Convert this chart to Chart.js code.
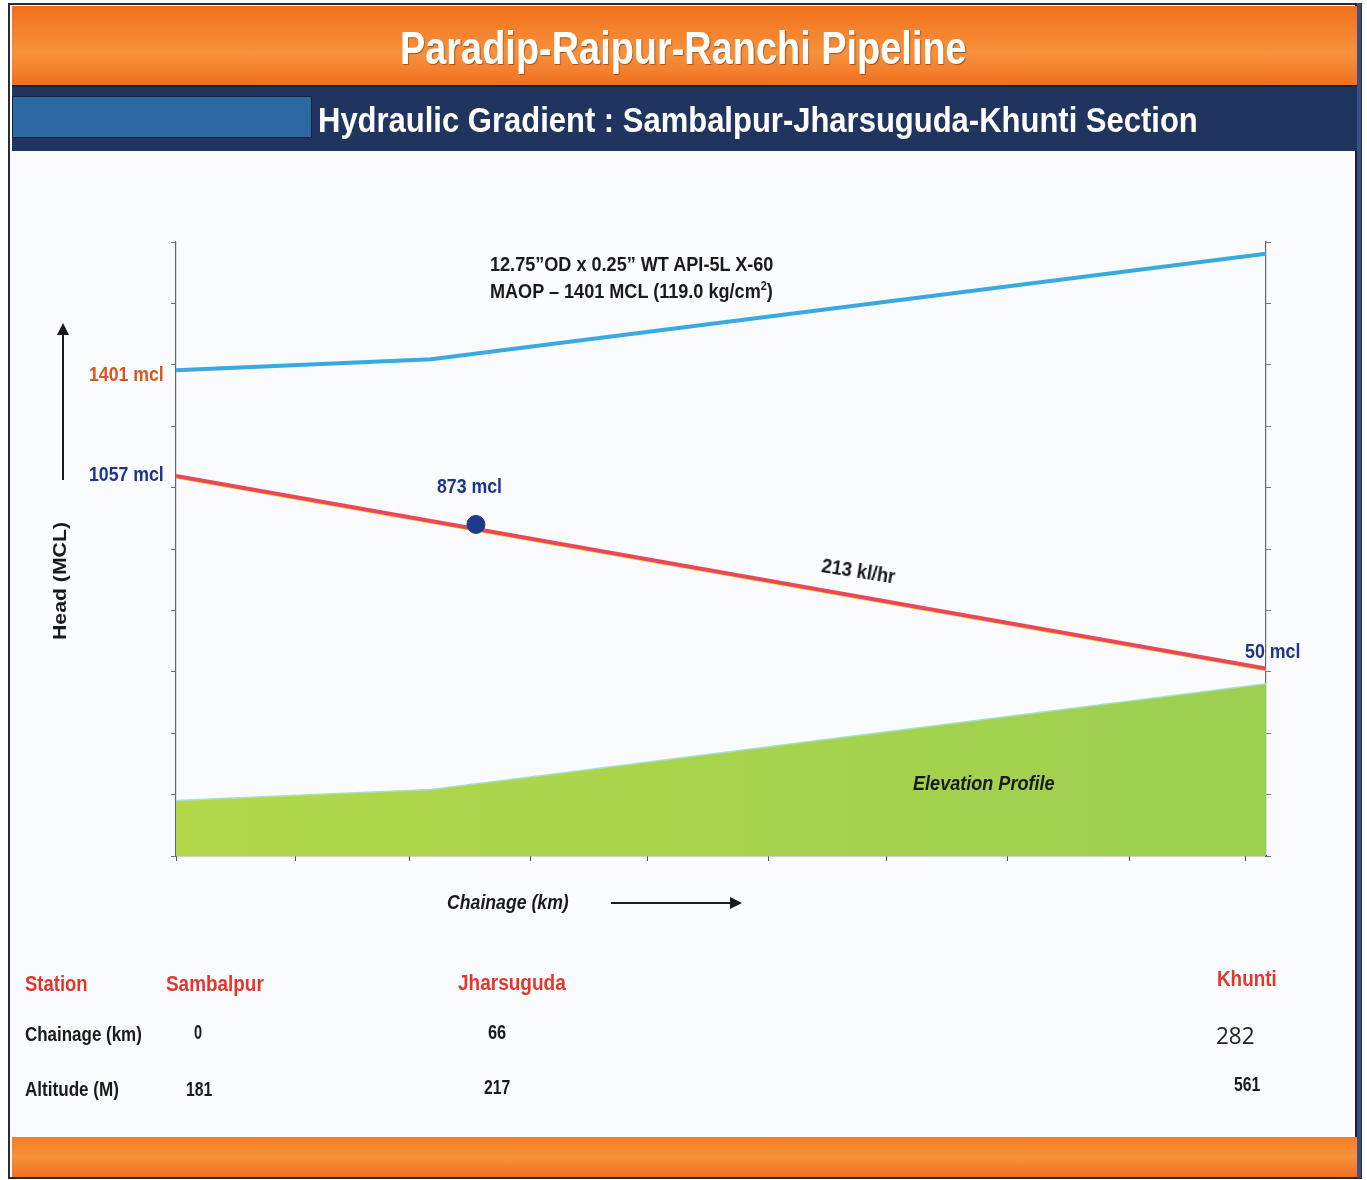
<!DOCTYPE html>
<html>
<head>
<meta charset="utf-8">
<script src="https://cdn.jsdelivr.net/npm/chart.js@4.4.1/dist/chart.umd.min.js"></script>
<style>
  html, body { margin:0; padding:0; background:#ffffff; }
  body { width:1367px; height:1180px; position:relative; overflow:hidden;
         font-family:"Liberation Sans",Arial,sans-serif; }
  .abs { position:absolute; white-space:nowrap; }
  #frame { left:8px; top:3px; width:1350px; height:1172px; border:2px solid #2b2b35; background:#f9fbfd; }
  #rightedge { left:1355px; top:3px; width:4px; height:1175px; background:#3a4f86; border-left:2px solid #1b1f2e; }
  #hdr { left:12px; top:6px; width:1345px; height:79px;
         background:linear-gradient(to bottom,#f26f1e 0%,#f68a33 45%,#f7913c 60%,#f0701f 100%); }
  #band { left:12px; top:85px; width:1345px; height:64px; background:#1f355f; border-top:2px solid #142444; }
  #bluebox { left:12px; top:96px; width:298px; height:40px; background:#2c68a1; border:1px solid #13213b; }
  #foot { left:12px; top:1137px; width:1345px; height:40px;
          background:linear-gradient(to bottom,#f47c25 0%,#f7923b 50%,#f07020 100%); }
  canvas#c { position:absolute; left:0; top:0; }
</style>
</head>
<body>
<div id="frame" class="abs"></div>
<div id="rightedge" class="abs"></div>
<div id="hdr" class="abs"></div>
<div id="band" class="abs"></div>
<div id="bluebox" class="abs"></div>
<div id="foot" class="abs"></div>

<canvas id="c" width="1367" height="1180"></canvas>

<!-- arrows -->
<div class="abs" style="left:62px;top:334px;width:2px;height:146px;background:#1a1a1a;"></div>
<div class="abs" style="left:57px;top:323px;width:0;height:0;border-left:6px solid transparent;border-right:6px solid transparent;border-bottom:12px solid #1a1a1a;"></div>
<div class="abs" style="left:611px;top:902px;width:120px;height:2px;background:#1a1a1a;"></div>
<div class="abs" style="left:730px;top:897px;width:0;height:0;border-top:6px solid transparent;border-bottom:6px solid transparent;border-left:12px solid #1a1a1a;"></div>

<script>
// ---------- data ----------
const stations      = ['Sambalpur', 'Jharsuguda', 'Khunti'];
const chainageKm    = [0, 66, 282];
const altitudeM     = [181, 217, 561];
const maopHead      = [1582, 1618, 1962];   // MAOP line (1401 mcl above ground)
const hgKm          = [0, 282];
const hgHead        = [1238, 611];          // hydraulic gradient, 213 kl/hr
const markerKm      = [77.6];
const markerHead    = [1080];               // 873 mcl point
const xTicks        = [0, 31, 60.5, 91.6, 122.1, 153.4, 183.7, 215.2, 246.8, 276.8];
const yMin = 0, yMax = 2000, yStep = 200;

// ---------- text helper ----------
const NAVY = '#1f3585', RUST = '#d8561f', RED = '#e2372c', BLK = '#1a1a1a';
function place(html, o) {
  const d = document.createElement('div');
  d.className = 'abs';
  d.innerHTML = html;
  const fs = o.fs || 20;
  d.style.fontSize = fs + 'px';
  d.style.lineHeight = fs + 'px';
  d.style.fontWeight = o.weight || 'bold';
  if (o.italic) d.style.fontStyle = 'italic';
  if (o.family) d.style.fontFamily = o.family;
  d.style.color = o.color || BLK;
  if (o.shadow) d.style.textShadow = o.shadow;
  document.body.appendChild(d);
  const nat = d.offsetWidth;
  const s = o.w ? o.w / nat : 1;
  if (o.vertical) {
    d.style.left = o.x + 'px';
    d.style.top = o.cy + 'px';
    d.style.transform = 'translate(-50%,-50%) rotate(-90deg) scaleX(' + s + ')';
    return d;
  }
  d.style.left = o.x + 'px';
  d.style.top = (o.cy - 0.49 * fs) + 'px';
  d.style.transformOrigin = 'left center';
  d.style.transform = (o.rot ? 'rotate(' + o.rot + 'deg) ' : '') + 'scaleX(' + s + ')';
  return d;
}

// header texts
place('Paradip-Raipur-Ranchi Pipeline', { x: 400, cy: 48, w: 567, fs: 46, color: '#fff', shadow: '1px 1px 1px rgba(90,35,0,0.55)' });
place('Hydraulic Gradient : Sambalpur-Jharsuguda-Khunti Section', { x: 318, cy: 119, w: 880, fs: 35, color: '#fff' });

// chart annotations
place('1401 mcl', { x: 89, cy: 373, w: 75, fs: 21, color: RUST });
place('1057 mcl', { x: 89, cy: 473, w: 75, fs: 21, color: NAVY });
place('873 mcl',  { x: 437, cy: 485, w: 65, fs: 21, color: NAVY });
place('50 mcl',   { x: 1245, cy: 650, w: 55, fs: 21, color: NAVY });
place('213 kl/hr', { x: 822, cy: 564, w: 74, fs: 21, color: BLK, rot: 9 });
place('12.75”OD x 0.25” WT API-5L X-60', { x: 490, cy: 264, w: 283, fs: 20 });
place('MAOP – 1401 MCL (119.0 kg/cm<sup style="font-size:12px;line-height:0;">2</sup>)', { x: 490, cy: 291, w: 283, fs: 20 });
place('Elevation Profile', { x: 913, cy: 782, w: 142, fs: 21, italic: true });
place('Chainage (km)', { x: 447, cy: 901, w: 122, fs: 21, italic: true });
place('Head (MCL)', { x: 60, cy: 581, w: 118, fs: 18, vertical: true });

// station table
place('Station', { x: 25, cy: 984, w: 63, fs: 22, color: RED });
place('Chainage (km)', { x: 25, cy: 1034, w: 117, fs: 20 });
place('Altitude (M)', { x: 25, cy: 1089, w: 94, fs: 20 });
const stW   = [98, 108, 60];
const stX   = [166, 458, 1217];
const stCy  = [984, 983, 979];
const chX   = [194, 488, 1216];
const chW   = [8, 18, 38];
const altX  = [186, 484, 1234];
const altCy = [1089, 1087, 1084];
stations.forEach((s, i) => {
  place(s, { x: stX[i], cy: stCy[i], w: stW[i], fs: 22, color: RED });
  if (i === 2) {
    place(String(chainageKm[i]), { x: chX[i], cy: 1035, w: chW[i], fs: 23, weight: 'normal', family: "'Open Sans',sans-serif", color: '#222' });
  } else {
    place(String(chainageKm[i]), { x: chX[i], cy: 1032, w: chW[i], fs: 20 });
  }
  place(String(altitudeM[i]), { x: altX[i], cy: altCy[i], w: 26, fs: 20 });
});

// ---------- chart ----------
const pts = (xs, ys) => xs.map((x, i) => ({ x: x, y: ys[i] }));
const fitZeroW = s => { s.width = 0; };
const fitZeroH = s => { s.height = 0; };

new Chart(document.getElementById('c'), {
  type: 'line',
  data: {
    datasets: [
      {
        label: 'Marker',
        data: pts(markerKm, markerHead),
        showLine: false,
        pointRadius: 9,
        pointHoverRadius: 9,
        pointBackgroundColor: '#1e3a8c',
        pointBorderColor: '#1e3a8c',
        order: 0
      },
      {
        label: 'MAOP',
        data: pts(chainageKm, maopHead),
        borderColor: '#38a9e1',
        borderWidth: 4,
        pointRadius: 0,
        tension: 0,
        order: 1
      },
      {
        label: 'Hydraulic gradient',
        data: pts(hgKm, hgHead),
        borderColor: '#e9485a',
        borderWidth: 4,
        pointRadius: 0,
        order: 1
      },
      {
        label: 'Hydraulic gradient edge',
        data: pts(hgKm, hgHead.map(v => v - 6)),
        borderColor: '#f5d33a',
        borderWidth: 2,
        pointRadius: 0,
        order: 2
      },
      {
        label: 'Elevation',
        data: pts(chainageKm, altitudeM),
        borderColor: '#a9e0c8',
        borderWidth: 1.5,
        pointRadius: 0,
        fill: 'origin',
        backgroundColor: (ctx) => {
          const ca = ctx.chart.chartArea;
          if (!ca) return '#a6d24e';
          const g = ctx.chart.ctx.createLinearGradient(ca.left, 0, ca.right, 0);
          g.addColorStop(0, '#b2d84a');
          g.addColorStop(1, '#9ccf50');
          return g;
        },
        order: 3
      }
    ]
  },
  options: {
    responsive: false,
    animation: false,
    events: [],
    layout: { padding: { left: 176, right: 101, top: 242, bottom: 324 } },
    plugins: { legend: { display: false }, tooltip: { enabled: false } },
    scales: {
      x: {
        type: 'linear', min: 0, max: 282,
        afterBuildTicks: s => { s.ticks = xTicks.map(v => ({ value: v })); },
        afterFit: fitZeroH,
        ticks: { display: false },
        grid: { drawOnChartArea: false, tickLength: 5, color: '#555' },
        border: { color: '#555', width: 1.2 }
      },
      y: {
        type: 'linear', min: yMin, max: yMax,
        afterFit: fitZeroW,
        ticks: { display: false, stepSize: yStep },
        grid: { drawOnChartArea: false, tickLength: 5, color: '#777' },
        border: { color: '#666', width: 1.2 }
      },
      y2: {
        type: 'linear', position: 'right', min: yMin, max: yMax,
        afterFit: fitZeroW,
        ticks: { display: false, stepSize: yStep },
        grid: { drawOnChartArea: false, tickLength: 5, color: '#777' },
        border: { color: '#666', width: 1.2 }
      }
    }
  }
});
</script>
</body>
</html>
